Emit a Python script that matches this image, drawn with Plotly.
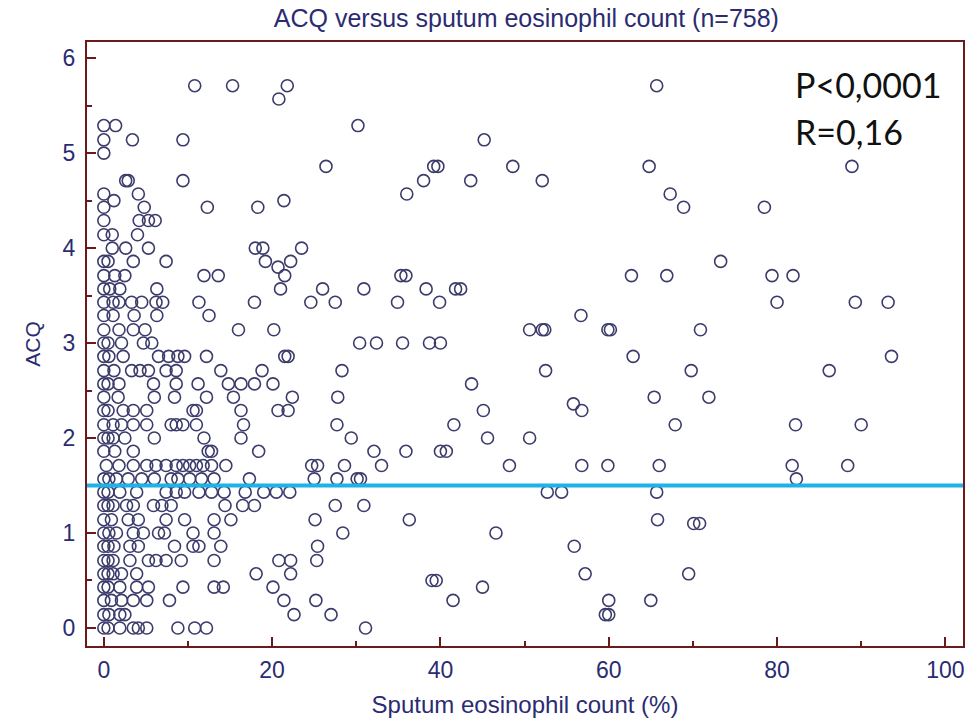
import plotly.graph_objects as go

# Sputum eosinophil count (%) and ACQ score, read level by level from the picture
eos = [
    0, 0.5, 1.9, 3.5, 4.1, 5.1, 8.8, 10.8, 12.2, 31.1,                         # 0.00
    0, 0.6, 1.9, 2.5, 22.6, 27.0, 59.6, 60.0,                                  # 0.14
    0, 0.9, 2.1, 3.5, 5.1, 7.8, 21.4, 25.2, 41.5, 60.0, 65.0,                  # 0.29
    0, 0.5, 1.9, 3.9, 5.3, 9.4, 13.1, 14.2, 20.1, 45.0,                        # 0.43
    39.0, 39.5,                                                                # 0.50
    0, 0.5, 1.1, 2.1, 3.9, 18.1, 22.2, 57.2, 69.5,                             # 0.57
    0, 0.5, 1.1, 3.1, 5.3, 6.2, 7.4, 9.2, 13.1, 20.8, 22.2, 25.3,              # 0.71
    0, 0.5, 1.2, 3.1, 4.1, 8.4, 10.6, 11.3, 13.9, 25.4, 55.9,                  # 0.86
    0, 0.6, 1.5, 3.5, 4.7, 6.5, 7.2, 10.6, 13.1, 28.4, 46.6,                   # 1.00
    0, 0.9, 2.9, 4.1, 7.4, 9.6, 13.1, 15.1, 25.1, 36.3, 65.8,                  # 1.14
    70.1, 70.8,                                                                # 1.10
    0, 0.5, 1.1, 2.7, 3.5, 5.9, 6.9, 8.0, 14.4, 16.5, 17.9, 27.5, 30.9,        # 1.29
    0, 0.5, 1.9, 3.9, 7.4, 8.6, 9.6, 11.3, 12.8, 14.3, 16.8, 19.0, 20.5,
    22.1, 52.7, 54.4, 65.7,                                                    # 1.43
    0, 0.6, 1.5, 2.9, 4.5, 6.0, 8.0, 8.8, 10.2, 11.6, 13.1, 17.3, 25.0, 27.7,
    30.1, 30.5, 82.3,                                                          # 1.57
    0.3, 1.8, 3.5, 5.1, 6.2, 7.4, 8.6, 9.4, 10.2, 11.0, 11.8, 12.8, 14.5,
    24.7, 25.4, 28.6, 33.0, 48.2, 56.8, 59.9, 66.0, 81.8, 88.4,                # 1.71
    0, 1.3, 3.5, 12.4, 12.8, 18.4, 32.1, 35.9, 40.0, 40.7,                     # 1.86
    0, 0.5, 1.1, 2.5, 6.0, 11.9, 16.3, 29.4, 45.6, 50.6,                       # 2.00
    0, 1.1, 2.1, 3.5, 5.1, 8.0, 8.6, 9.4, 11.0, 16.6, 27.7, 41.6, 67.9,
    82.2, 90.0,                                                                # 2.14
    0, 0.5, 2.3, 3.5, 5.1, 10.6, 11.0, 16.3, 20.7, 21.9, 45.1, 56.8,           # 2.29
    55.8,                                                                      # 2.36
    0, 1.7, 6.0, 8.4, 12.2, 15.4, 22.4, 27.8, 65.4, 71.9,                      # 2.43
    0, 0.5, 1.8, 5.9, 8.6, 11.2, 14.8, 16.3, 17.9, 20.1, 43.7,                 # 2.57
    0, 1.2, 3.3, 4.3, 5.3, 7.4, 8.6, 13.9, 18.8, 28.3, 52.5, 69.8, 86.2,       # 2.71
    0, 0.6, 2.3, 6.5, 7.7, 8.8, 9.6, 12.2, 21.5, 21.9, 62.9, 93.6,             # 2.86
    0, 0.5, 2.1, 4.7, 5.7, 30.4, 32.4, 35.5, 38.7, 40.0,                       # 3.00
    0, 1.8, 3.5, 4.9, 16.0, 20.2, 50.6, 52.1, 52.4, 59.9, 60.2, 70.9,          # 3.14
    0, 1.1, 3.6, 6.3, 12.5, 56.7,                                              # 3.29
    0, 1.1, 1.8, 3.3, 4.5, 6.2, 7.0, 11.3, 17.9, 24.6, 27.5, 34.9, 39.9,
    80.0, 89.3, 93.2,                                                          # 3.43
    0, 0.7, 1.9, 6.3, 21.0, 26.0, 30.9, 38.3, 41.8, 42.4,                      # 3.57
    0, 1.3, 2.5, 11.9, 13.6, 21.5, 35.3, 35.9, 62.7, 66.9, 79.4, 81.9,         # 3.71
    20.7,                                                                      # 3.80
    0, 0.5, 3.5, 7.4, 19.2, 22.2, 73.3,                                        # 3.86
    1.0, 2.6, 5.3, 18.0, 18.9, 23.5,                                           # 4.00
    0, 1.0, 4.0,                                                               # 4.14
    0, 4.2, 5.3, 6.1,                                                          # 4.29
    0, 4.8, 12.3, 18.3, 68.9, 78.5,                                            # 4.43
    1.2, 21.4,                                                                 # 4.50
    0, 4.1, 36.0, 67.3,                                                        # 4.57
    2.6, 2.9, 9.4, 38.0, 43.6, 52.1,                                           # 4.71
    26.4, 39.2, 39.7, 48.6, 64.8, 88.9,                                        # 4.86
    0,                                                                         # 5.00
    0, 3.4, 9.4, 45.2,                                                         # 5.14
    0, 1.4, 30.2,                                                              # 5.29
    20.8,                                                                      # 5.57
    10.8, 15.3, 21.8, 65.7,                                                    # 5.71
]

acq = [
    0, 0, 0, 0, 0, 0, 0, 0, 0, 0,
    0.14, 0.14, 0.14, 0.14, 0.14, 0.14, 0.14, 0.14,
    0.29, 0.29, 0.29, 0.29, 0.29, 0.29, 0.29, 0.29, 0.29, 0.29, 0.29,
    0.43, 0.43, 0.43, 0.43, 0.43, 0.43, 0.43, 0.43, 0.43, 0.43,
    0.50, 0.50,
    0.57, 0.57, 0.57, 0.57, 0.57, 0.57, 0.57, 0.57, 0.57,
    0.71, 0.71, 0.71, 0.71, 0.71, 0.71, 0.71, 0.71, 0.71, 0.71, 0.71, 0.71,
    0.86, 0.86, 0.86, 0.86, 0.86, 0.86, 0.86, 0.86, 0.86, 0.86, 0.86,
    1.00, 1.00, 1.00, 1.00, 1.00, 1.00, 1.00, 1.00, 1.00, 1.00, 1.00,
    1.14, 1.14, 1.14, 1.14, 1.14, 1.14, 1.14, 1.14, 1.14, 1.14, 1.14,
    1.10, 1.10,
    1.29, 1.29, 1.29, 1.29, 1.29, 1.29, 1.29, 1.29, 1.29, 1.29, 1.29, 1.29, 1.29,
    1.43, 1.43, 1.43, 1.43, 1.43, 1.43, 1.43, 1.43, 1.43, 1.43, 1.43, 1.43, 1.43,
    1.43, 1.43, 1.43, 1.43,
    1.57, 1.57, 1.57, 1.57, 1.57, 1.57, 1.57, 1.57, 1.57, 1.57, 1.57, 1.57, 1.57,
    1.57, 1.57, 1.57, 1.57,
    1.71, 1.71, 1.71, 1.71, 1.71, 1.71, 1.71, 1.71, 1.71, 1.71, 1.71, 1.71, 1.71,
    1.71, 1.71, 1.71, 1.71, 1.71, 1.71, 1.71, 1.71, 1.71, 1.71,
    1.86, 1.86, 1.86, 1.86, 1.86, 1.86, 1.86, 1.86, 1.86, 1.86,
    2.00, 2.00, 2.00, 2.00, 2.00, 2.00, 2.00, 2.00, 2.00, 2.00,
    2.14, 2.14, 2.14, 2.14, 2.14, 2.14, 2.14, 2.14, 2.14, 2.14, 2.14, 2.14, 2.14,
    2.14, 2.14,
    2.29, 2.29, 2.29, 2.29, 2.29, 2.29, 2.29, 2.29, 2.29, 2.29, 2.29, 2.29,
    2.36,
    2.43, 2.43, 2.43, 2.43, 2.43, 2.43, 2.43, 2.43, 2.43, 2.43,
    2.57, 2.57, 2.57, 2.57, 2.57, 2.57, 2.57, 2.57, 2.57, 2.57, 2.57,
    2.71, 2.71, 2.71, 2.71, 2.71, 2.71, 2.71, 2.71, 2.71, 2.71, 2.71, 2.71, 2.71,
    2.86, 2.86, 2.86, 2.86, 2.86, 2.86, 2.86, 2.86, 2.86, 2.86, 2.86, 2.86,
    3.00, 3.00, 3.00, 3.00, 3.00, 3.00, 3.00, 3.00, 3.00, 3.00,
    3.14, 3.14, 3.14, 3.14, 3.14, 3.14, 3.14, 3.14, 3.14, 3.14, 3.14, 3.14,
    3.29, 3.29, 3.29, 3.29, 3.29, 3.29,
    3.43, 3.43, 3.43, 3.43, 3.43, 3.43, 3.43, 3.43, 3.43, 3.43, 3.43, 3.43, 3.43,
    3.43, 3.43, 3.43,
    3.57, 3.57, 3.57, 3.57, 3.57, 3.57, 3.57, 3.57, 3.57, 3.57,
    3.71, 3.71, 3.71, 3.71, 3.71, 3.71, 3.71, 3.71, 3.71, 3.71, 3.71, 3.71,
    3.80,
    3.86, 3.86, 3.86, 3.86, 3.86, 3.86, 3.86,
    4.00, 4.00, 4.00, 4.00, 4.00, 4.00,
    4.14, 4.14, 4.14,
    4.29, 4.29, 4.29, 4.29,
    4.43, 4.43, 4.43, 4.43, 4.43, 4.43,
    4.50, 4.50,
    4.57, 4.57, 4.57, 4.57,
    4.71, 4.71, 4.71, 4.71, 4.71, 4.71,
    4.86, 4.86, 4.86, 4.86, 4.86, 4.86,
    5.00,
    5.14, 5.14, 5.14, 5.14,
    5.29, 5.29, 5.29,
    5.57,
    5.71, 5.71, 5.71, 5.71,
]

x_ticks = [0, 20, 40, 60, 80, 100]
y_ticks = [0, 1, 2, 3, 4, 5, 6]
reference_acq = 1.5
stats_lines = ["P<0,0001", "R=0,16"]
title_text = "ACQ versus sputum eosinophil count (n=758)"

assert len(eos) == len(acq), (len(eos), len(acq))

navy = "#2b2b72"
frame = "#6a1a1a"
sans = "Liberation Sans, Arial"

fig = go.Figure()
fig.add_trace(go.Scatter(
    x=eos, y=acq, mode="markers",
    marker=dict(symbol="circle-open", size=12, color="#3c3c6c",
                line=dict(width=1.6, color="#3c3c6c")),
    showlegend=False, hoverinfo="x+y",
))

fig.add_shape(type="line", xref="paper", x0=0, x1=1, yref="y",
              y0=reference_acq, y1=reference_acq,
              line=dict(color="#1fb2e6", width=4), layer="above")

axis_common = dict(
    showline=True, linecolor=frame, linewidth=2, mirror=True,
    ticks="inside", tickcolor=frame, ticklen=9, tickwidth=2,
    showgrid=False, zeroline=False,
    tickfont=dict(family=sans, size=23, color=navy),
)

fig.update_xaxes(
    range=[-2, 102.1], tickvals=x_ticks,
    minor=dict(ticks="inside", ticklen=5, tickwidth=1.5, tickcolor=frame, dtick=10, tick0=0),
    title=dict(text="Sputum eosinophil count (%)",
               font=dict(family=sans, size=24, color=navy), standoff=15),
    ticklabelstandoff=2,
    **axis_common,
)
fig.update_yaxes(
    range=[-0.19, 6.17], tickvals=y_ticks,
    minor=dict(ticks="inside", ticklen=5, tickwidth=1.5, tickcolor=frame, dtick=0.5, tick0=0),
    title=dict(text="ACQ",
               font=dict(family=sans, size=21, color=navy), standoff=16),
    ticklabelstandoff=5,
    **axis_common,
)

for i, line in enumerate(stats_lines):
    fig.add_annotation(text=line, xref="paper", yref="paper",
                       x=0.806, y=0.93 - i * 0.079, xanchor="left", yanchor="middle",
                       showarrow=False,
                       font=dict(family="Lato, Open Sans", size=34, color="#111111"))

fig.update_layout(
    width=973, height=722,
    margin=dict(l=87, r=8, t=42, b=76),
    paper_bgcolor="white", plot_bgcolor="white",
    title=dict(text=title_text, x=0.541, xanchor="center", y=0.975, yanchor="middle",
               font=dict(family=sans, size=25, color=navy)),
)

fig.write_html("out.html")
